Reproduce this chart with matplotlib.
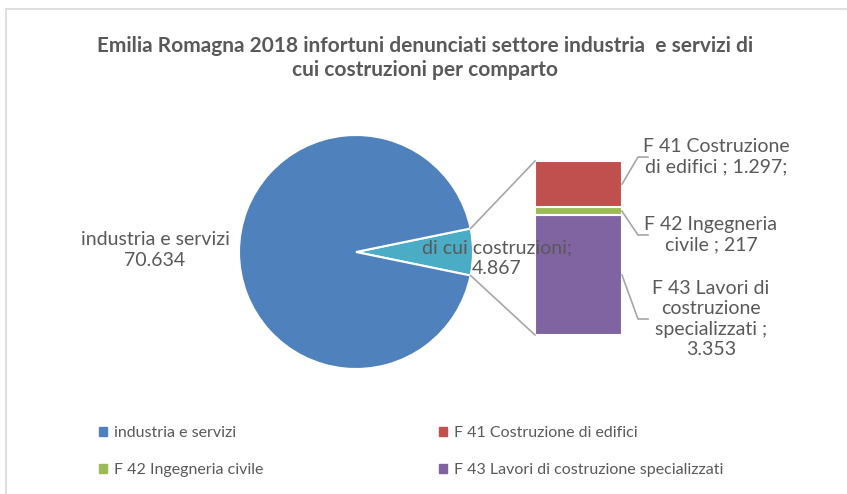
import numpy as np
import matplotlib
matplotlib.use("Agg")
from matplotlib import pyplot as plt
from matplotlib.patches import Rectangle

# data
pie_labels = ["di cui costruzioni", "industria e servizi"]
pie_values = [4867, 70634]
bar_labels = ["F 43 Lavori di costruzione specializzati", "F 42 Ingegneria civile",
              "F 41 Costruzione di edifici"]
bar_values = [3353, 217, 1297]
title = "Emilia Romagna 2018 infortuni denunciati settore industria  e servizi di\ncui costruzioni per comparto"

c_ind = "#4F81BD"
c_costr = "#4BACC6"
bar_colors = ["#8064A2", "#9BBB59", "#C0504D"]
txt = "#595959"
line_c = "#A6A6A6"

plt.rcParams['font.family'] = ['Lato', 'DejaVu Sans']

W, H = 847, 494


def fmt(v):
    return f"{v:,}".replace(",", ".")


fig = plt.figure(figsize=(W / 100, H / 100), dpi=100)
ax = fig.add_axes([0, 0, 1, 1])

# chart border
ax.add_patch(Rectangle((6, -10), W + 20, H - 9 + 10, fill=False, ec="#D9D9D9", lw=1.2))

# pie
cx, cy, r = 356, H - 252, 117
frac = pie_values[0] / sum(pie_values)
half = frac * 360 / 2
ax.pie(pie_values, colors=[c_costr, c_ind], startangle=-half, counterclock=True,
       center=(cx, cy), radius=r, frame=True,
       wedgeprops=dict(edgecolor="white", linewidth=1.5))
ax.set_xlim(0, W)
ax.set_ylim(0, H)
ax.set_aspect("equal")
ax.axis("off")

# stacked bar
bx, bw = 535, 87
b_bottom = H - 335
b_height = 174
scale = b_height / sum(bar_values)
bottoms = np.concatenate([[0], np.cumsum(bar_values)[:-1]]) * scale + b_bottom
ax.bar([bx + bw / 2] * 3, np.array(bar_values) * scale, width=bw, bottom=bottoms,
       color=bar_colors, edgecolor="white", linewidth=1.5)

# connector lines
a = np.radians(half)
ax.plot([cx + r * np.cos(a), bx], [cy + r * np.sin(a), b_bottom + b_height], color=line_c, lw=1.2)
ax.plot([cx + r * np.cos(a), bx], [cy - r * np.sin(a), b_bottom], color=line_c, lw=1.2)

# pie labels
ax.text(155, H - 250, f"{pie_labels[1]}\n{fmt(pie_values[1])}", ha="center", va="center",
        fontsize=14, color=txt, linespacing=1.25)
ax.text(497, H - 258, f"{pie_labels[0]};\n{fmt(pie_values[0])}", ha="center", va="center",
        fontsize=14, color=txt, linespacing=1.25)

# bar labels with leader lines
bar_texts = [
    "F 43 Lavori di\ncostruzione\nspecializzati ;\n" + fmt(bar_values[0]),
    "F 42 Ingegneria\ncivile ; " + fmt(bar_values[1]),
    "F 41 Costruzione\ndi edifici ; " + fmt(bar_values[2]) + ";",
]
label_y = [H - 319, H - 235, H - 157]
label_x = [711, 711, 716]
mids = bottoms + np.array(bar_values) * scale / 2
for t, lx, ly, m in zip(bar_texts, label_x, label_y, mids):
    ax.plot([bx + bw, 638, 648], [m, ly, ly], color=line_c, lw=1.2)
    ax.text(lx, ly, t, ha="center", va="center", fontsize=14, color=txt, linespacing=1.25)

# title
ax.text(425, H - 58, title, ha="center", va="center", fontsize=15, fontweight="bold",
        color=txt, linespacing=1.25)

# legend
handles = [Rectangle((0, 0), 1, 1, color=c) for c in [c_ind, bar_colors[1], bar_colors[2], bar_colors[0]]]
names = [pie_labels[1], bar_labels[1], bar_labels[2], bar_labels[0]]
fig.legend(handles, names, ncol=2, loc="upper left", bbox_to_anchor=(99 / W, 1 - 426 / H),
           frameon=False, fontsize=11.5, handlelength=0.5, handleheight=0.5, handletextpad=0.45,
           columnspacing=11.0, labelspacing=1.45, labelcolor=txt, borderpad=0, borderaxespad=0)

fig.savefig("out.png", dpi=100)
